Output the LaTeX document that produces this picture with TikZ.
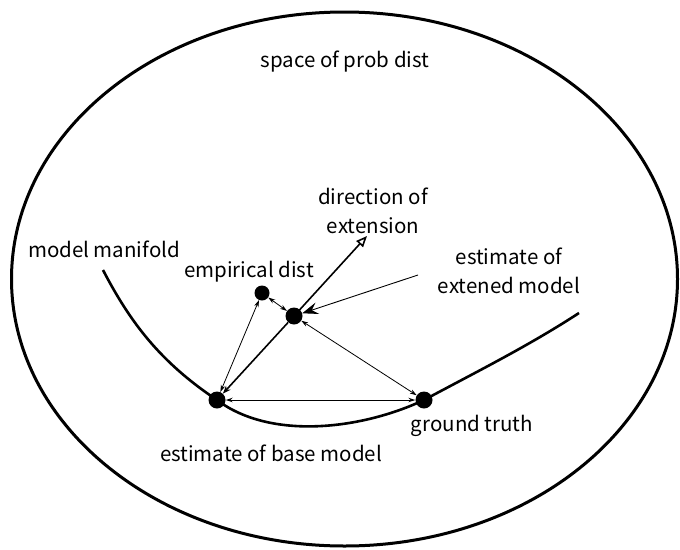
\documentclass[tikz,border=0pt]{standalone}
\usepackage{fontspec}
\setmainfont{Noto Sans CJK JP}
\usetikzlibrary{arrows.meta}
\begin{document}
\begin{tikzpicture}[x=1pt,y=-1pt,
  lbl/.style={font=\fontsize{20.5}{29.5}\selectfont, inner sep=0pt, align=center},
  pt/.style={circle, fill=black, inner sep=0pt, minimum size=#1},
  pt/.default=16pt,
  thin2/.style={line width=0.8pt, {Stealth[length=7pt,width=4.5pt]}-{Stealth[length=7pt,width=4.5pt]}},
]
\useasboundingbox (0,0) rectangle (680,549);
% outer ellipse
\draw[line width=3pt] (344.5,279) ellipse [x radius=333, y radius=267];
% model manifold curve
\draw[line width=2.6pt] (103,270) .. controls (130,322) and (160,362) .. (217,400)
  .. controls (270,440) and (360,430) .. (424,400)
  .. controls (480,370) and (530,345) .. (579,313);
% points
\node[pt=15pt] (emp) at (262,293) {};
\node[pt=17pt] (ext) at (294,316) {};
\node[pt=17pt] (base) at (217,400) {};
\node[pt=17pt] (gt) at (424,400) {};
\coordinate (dir) at (367,236);
\coordinate (estsrc) at (418,275);
% connectors
\draw[thin2] (emp) -- (ext);
\draw[thin2] (emp) -- (base);
\draw[thin2] (ext) -- (gt);
\draw[thin2, line width=1pt] (base) -- (gt);
\draw[line width=1.6pt, -{Stealth[length=8pt,width=6pt]}] (ext) -- (base);
\draw[line width=1.6pt, -{Triangle[open,length=11pt,width=9pt]}] (ext.center) -- (dir);
\draw[line width=0.9pt, -{Stealth[length=16pt,width=12pt,inset=6pt]}] (estsrc) -- (ext);
% labels
\node[lbl] (t1) at (345,62) {space of prob dist};
\node[lbl] (t2) at (373,211) {direction of\\extension};
\node[lbl] (t3) at (104,249) {model manifold};
\node[lbl] (t4) at (249,272) {empirical dist};
\node[lbl] (t5) at (509,271) {estimate of\\extened model};
\node[lbl] (t6) at (472,426) {ground truth};
\node[lbl] (t7) at (271,453) {estimate of base model};
\end{tikzpicture}
\end{document}
